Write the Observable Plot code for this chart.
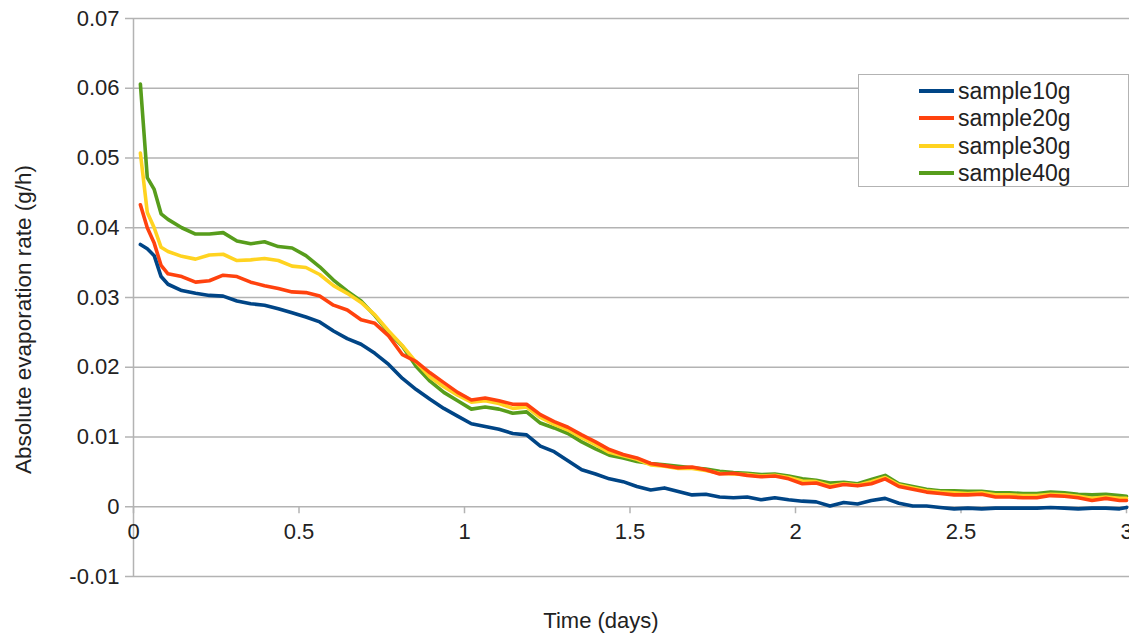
<!DOCTYPE html>
<html>
<head>
<meta charset="utf-8">
<script src="https://cdn.jsdelivr.net/npm/d3@7"></script>
<script src="https://cdn.jsdelivr.net/npm/@observablehq/plot@0.6"></script>
<style>
  html, body { margin: 0; padding: 0; background: #fff; }
  #chart { position: relative; width: 1129px; height: 635px; overflow: hidden;
           font-family: "Liberation Sans", Arial, sans-serif; color: #222; }
  #chart svg { display: block; }
  .legend { position: absolute; left: 858px; top: 74px; width: 271px; height: 113px;
            box-sizing: border-box; border: 1px solid #b3b3b3; background: #fff; }
  .legend .row { position: absolute; left: 0; height: 26px; width: 100%; }
  .legend .swatch { position: absolute; left: 60px; top: 11px; width: 35px; height: 4px; }
  .legend .label { position: absolute; left: 99px; top: 0; font-size: 23px; line-height: 26px; white-space: nowrap; }
</style>
</head>
<body>
<div id="chart"></div>
<script>
// Measurement times in hours since start (rates are per-hour averages)
const hours = [0.5, 1, 1.5, 2, 2.5, 3.5, 4.5, 5.5, 6.5, 7.5, 8.5, 9.5, 10.5, 11.5, 12.5,
  13.5, 14.5, 15.5, 16.5, 17.5, 18.5, 19.5, 20.5, 21.5, 22.5, 23.5, 24.5, 25.5, 26.5, 27.5,
  28.5, 29.5, 30.5, 31.5, 32.5, 33.5, 34.5, 35.5, 36.5, 37.5, 38.5, 39.5, 40.5, 41.5, 42.5,
  43.5, 44.5, 45.5, 46.5, 47.5, 48.5, 49.5, 50.5, 51.5, 52.5, 53.5, 54.5, 55.5, 56.5, 57.5,
  58.5, 59.5, 60.5, 61.5, 62.5, 63.5, 64.5, 65.5, 66.5, 67.5, 68.5, 69.5, 70.5, 71.5, 72];

// Absolute evaporation rate (g/h) for each sample
const sample10g = [0.0376, 0.0370, 0.0360, 0.0330, 0.0319,
  0.0310, 0.0306, 0.0303, 0.0302, 0.0295,
  0.0291, 0.0289, 0.0284, 0.0278, 0.0272,
  0.0265, 0.0252, 0.0241, 0.0233, 0.0220,
  0.0204, 0.0184, 0.0168, 0.0154, 0.0141,
  0.0130, 0.0119, 0.0115, 0.0111, 0.0105,
  0.0103, 0.0087, 0.0079, 0.0066, 0.0053,
  0.0047, 0.0040, 0.0036, 0.0029, 0.0024,
  0.0027, 0.0022, 0.0017, 0.0018, 0.0014,
  0.0013, 0.0014, 0.0010, 0.0013, 0.0010,
  0.0008, 0.0007, 0.0001, 0.0006, 0.0004,
  0.0009, 0.0012, 0.0005, 0.0001, 0.0001,
  -0.0001, -0.0003, -0.0002, -0.0003, -0.0002,
  -0.0002, -0.0002, -0.0002, -0.0001, -0.0002,
  -0.0003, -0.0002, -0.0002, -0.0003, -0.0001];

const sample20g = [0.0433, 0.0400, 0.0378, 0.0346, 0.0334,
  0.0330, 0.0322, 0.0324, 0.0332, 0.0330,
  0.0322, 0.0317, 0.0313, 0.0308, 0.0307,
  0.0302, 0.0289, 0.0282, 0.0268, 0.0263,
  0.0245, 0.0218, 0.0208, 0.0192, 0.0178,
  0.0164, 0.0153, 0.0156, 0.0152, 0.0147,
  0.0147, 0.0132, 0.0122, 0.0114, 0.0103,
  0.0093, 0.0082, 0.0075, 0.0070, 0.0062,
  0.0059, 0.0056, 0.0057, 0.0053, 0.0047,
  0.0048, 0.0045, 0.0043, 0.0044, 0.0040,
  0.0033, 0.0034, 0.0028, 0.0032, 0.0030,
  0.0033, 0.0040, 0.0029, 0.0025, 0.0021,
  0.0019, 0.0017, 0.0017, 0.0018, 0.0014,
  0.0014, 0.0013, 0.0013, 0.0016, 0.0015,
  0.0013, 0.0009, 0.0012, 0.0009, 0.0009];

const sample30g = [0.0507, 0.0422, 0.0400, 0.0372, 0.0366,
  0.0359, 0.0355, 0.0361, 0.0362, 0.0353,
  0.0354, 0.0356, 0.0353, 0.0345, 0.0343,
  0.0333, 0.0317, 0.0306, 0.0293, 0.0275,
  0.0252, 0.0231, 0.0207, 0.0186, 0.0172,
  0.0160, 0.0150, 0.0152, 0.0148, 0.0141,
  0.0143, 0.0128, 0.0118, 0.0110, 0.0099,
  0.0089, 0.0078, 0.0073, 0.0068, 0.0060,
  0.0058, 0.0055, 0.0055, 0.0052, 0.0048,
  0.0047, 0.0046, 0.0044, 0.0045, 0.0042,
  0.0037, 0.0036, 0.0030, 0.0033, 0.0031,
  0.0036, 0.0042, 0.0031, 0.0027, 0.0023,
  0.0021, 0.0020, 0.0019, 0.0020, 0.0017,
  0.0017, 0.0016, 0.0016, 0.0018, 0.0017,
  0.0015, 0.0012, 0.0014, 0.0012, 0.0012];

const sample40g = [0.0606, 0.0472, 0.0455, 0.0420, 0.0412,
  0.0400, 0.0391, 0.0391, 0.0393, 0.0381,
  0.0377, 0.0380, 0.0373, 0.0371, 0.0360,
  0.0344, 0.0325, 0.0309, 0.0295, 0.0274,
  0.0250, 0.0230, 0.0201, 0.0180, 0.0164,
  0.0152, 0.0140, 0.0143, 0.0140, 0.0134,
  0.0136, 0.0120, 0.0113, 0.0105, 0.0093,
  0.0083, 0.0074, 0.0070, 0.0065, 0.0062,
  0.0060, 0.0058, 0.0056, 0.0054, 0.0051,
  0.0049, 0.0048, 0.0046, 0.0047, 0.0044,
  0.0040, 0.0038, 0.0034, 0.0035, 0.0033,
  0.0039, 0.0045, 0.0033, 0.0029, 0.0025,
  0.0023, 0.0023, 0.0022, 0.0022, 0.0020,
  0.0020, 0.0019, 0.0019, 0.0021, 0.0020,
  0.0018, 0.0017, 0.0018, 0.0016, 0.0015];

const seriesNames = ["sample10g", "sample20g", "sample30g", "sample40g"];
const seriesValues = [sample10g, sample20g, sample30g, sample40g];
const seriesColors = ["#004586", "#ff420e", "#ffd320", "#579d1c"];

const xTicks = [0, 0.5, 1, 1.5, 2, 2.5, 3];
const xTickLabels = ["0", "0.5", "1", "1.5", "2", "2.5", "3"];
const yTicks = [-0.01, 0, 0.01, 0.02, 0.03, 0.04, 0.05, 0.06, 0.07];
const yTickLabels = ["-0.01", "0", "0.01", "0.02", "0.03", "0.04", "0.05", "0.06", "0.07"];

const xTitle = "Time (days)";
const yTitle = "Absolute evaporation rate (g/h)";

const GRID = "#b3b3b3";
const INK = "#222";

// Long-format rows; the last series is drawn first so sample10g ends up on top
const rows = [];
for (let s = seriesNames.length - 1; s >= 0; s--) {
  seriesValues[s].forEach((v, i) => rows.push({day: hours[i] / 24, rate: v, sample: seriesNames[s]}));
}

const chart = Plot.plot({
  width: 1129,
  height: 635,
  marginTop: 18,
  marginRight: 3,
  marginBottom: 59,
  marginLeft: 133,
  style: {fontFamily: '"Liberation Sans", Arial, sans-serif', fontSize: "22px", color: INK, background: "#fff", overflow: "visible"},
  x: {domain: [0, 3], axis: null},
  y: {domain: [-0.01, 0.07]},
  color: {domain: seriesNames, range: seriesColors},
  marks: [
    // horizontal grid (the lowest line doubles as the bottom frame)
    Plot.ruleY(yTicks, {stroke: GRID, strokeWidth: 1.5, insetRight: -3}),
    // vertical axis line
    Plot.ruleX([0], {stroke: GRID, strokeWidth: 1.5}),
    Plot.axisY({
      ticks: yTicks,
      tickFormat: d => yTickLabels[yTicks.indexOf(d)],
      tickSize: 8,
      tickPadding: 6,
      stroke: GRID,
      strokeWidth: 1.5,
      strokeOpacity: 1,
      fill: INK,
      fontSize: 22,
      label: null
    }),
    // x axis sits on the zero line
    Plot.ruleX(xTicks, {x: d => d, y1: () => 0, y2: () => 0, insetBottom: -7, stroke: GRID, strokeWidth: 1.5}),
    Plot.text(xTicks, {x: d => d, y: () => 0, dy: 25, text: d => xTickLabels[xTicks.indexOf(d)], fontSize: 22, fill: INK}),
    Plot.line(rows, {
      x: "day", y: "rate", z: "sample", stroke: "sample",
      strokeWidth: 3.6, strokeLinejoin: "round", strokeLinecap: "round"
    }),
    Plot.text([yTitle], {frameAnchor: "left", textAnchor: "middle", lineAnchor: "middle", rotate: -90, dx: -110, dy: 22, fontSize: 22.5, fill: INK}),
    Plot.text([xTitle], {frameAnchor: "bottom", textAnchor: "middle", lineAnchor: "middle", dx: -29, dy: 44, fontSize: 22, fill: INK})
  ]
});

const root = document.getElementById("chart");
root.appendChild(chart);

// Legend box inside the plot area
const legend = document.createElement("div");
legend.className = "legend";
seriesNames.forEach((name, i) => {
  const row = document.createElement("div");
  row.className = "row";
  row.style.top = (3 + i * 27.3) + "px";
  const sw = document.createElement("div");
  sw.className = "swatch";
  sw.style.background = seriesColors[i];
  const lb = document.createElement("div");
  lb.className = "label";
  lb.textContent = name;
  row.appendChild(sw);
  row.appendChild(lb);
  legend.appendChild(row);
});
root.appendChild(legend);
</script>
</body>
</html>
